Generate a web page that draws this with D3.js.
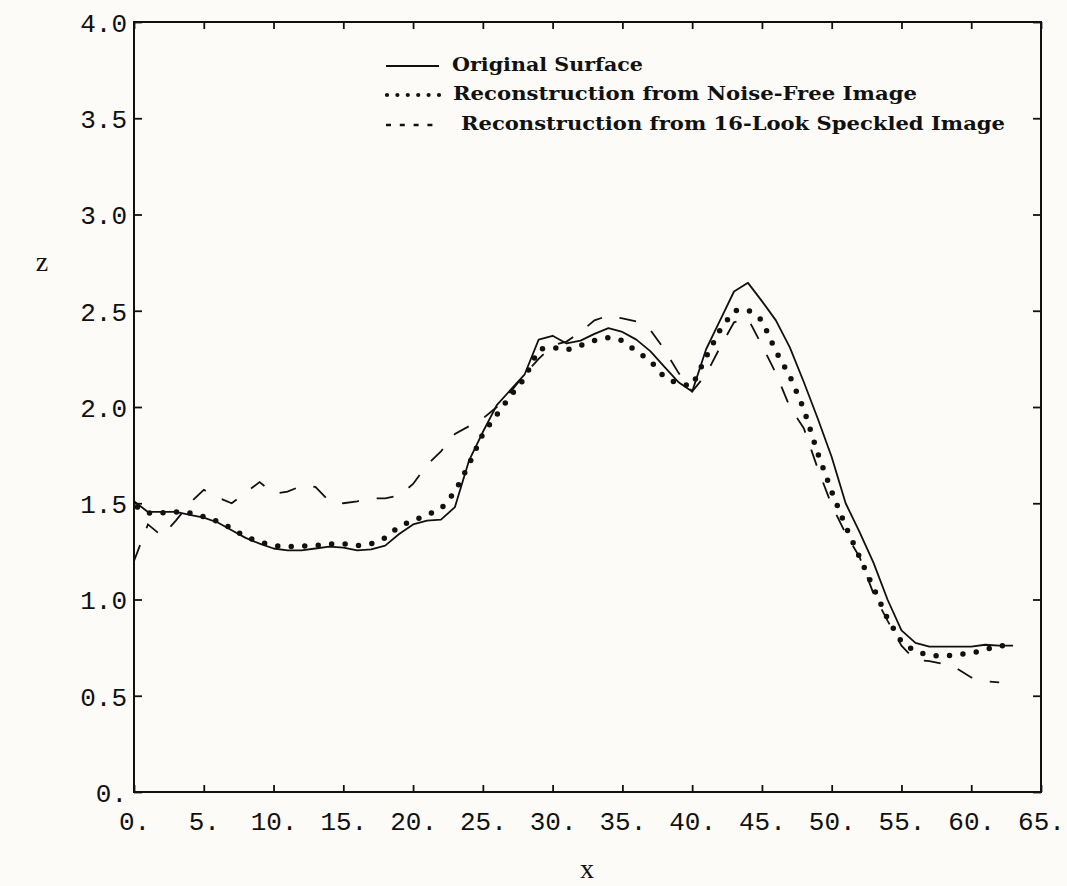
<!DOCTYPE html>
<html>
<head>
<meta charset="utf-8">
<script src="https://cdn.jsdelivr.net/npm/d3@7"></script>
<style>
  html, body { margin: 0; padding: 0; background: #fcfbf7; }
  svg { display: block; }
</style>
</head>
<body>
<svg id="chart" width="1067" height="886"></svg>
<script>
// ---------- data ----------
const xValues = d3.range(0, 64); // sample positions 0..63

const originalSurface = [
  1.51, 1.455, 1.455, 1.455, 1.44, 1.425, 1.40, 1.36, 1.32, 1.29,
  1.265, 1.255, 1.255, 1.265, 1.275, 1.27, 1.255, 1.26, 1.28, 1.34,
  1.39, 1.41, 1.415, 1.48, 1.72, 1.87, 2.01, 2.09, 2.17, 2.35,
  2.37, 2.33, 2.345, 2.38, 2.41, 2.39, 2.35, 2.29, 2.21, 2.13,
  2.08, 2.30, 2.45, 2.60, 2.645, 2.55, 2.45, 2.31, 2.13, 1.94,
  1.74, 1.50, 1.35, 1.19, 1.00, 0.84, 0.775, 0.755, 0.755, 0.755,
  0.755, 0.765, 0.76, 0.76
];

const noiseFreeRecon = [
  1.49, 1.45, 1.45, 1.455, 1.45, 1.43, 1.405, 1.37, 1.325, 1.30,
  1.28, 1.275, 1.278, 1.28, 1.288, 1.29, 1.28, 1.29, 1.32, 1.38,
  1.41, 1.44, 1.47, 1.56, 1.70, 1.86, 1.96, 2.06, 2.15, 2.30,
  2.31, 2.296, 2.32, 2.345, 2.36, 2.345, 2.29, 2.24, 2.155, 2.12,
  2.11, 2.26, 2.40, 2.50, 2.505, 2.45, 2.29, 2.16, 1.99, 1.76,
  1.56, 1.38, 1.22, 1.06, 0.90, 0.78, 0.73, 0.71, 0.705, 0.715,
  0.72, 0.74, 0.76, 0.76
];

const speckledRecon = [
  1.20, 1.39, 1.33, 1.41, 1.50, 1.57, 1.53, 1.50, 1.555, 1.61,
  1.55, 1.56, 1.59, 1.585, 1.51, 1.50, 1.51, 1.525, 1.525, 1.54,
  1.60, 1.70, 1.77, 1.86, 1.90, 1.94, 2.00, 2.08, 2.17, 2.25,
  2.32, 2.34, 2.39, 2.45, 2.475, 2.46, 2.445, 2.40, 2.30, 2.18,
  2.08, 2.17, 2.31, 2.44, 2.46, 2.32, 2.175, 2.00, 1.89, 1.68,
  1.49, 1.343, 1.22, 1.03, 0.89, 0.76, 0.685, 0.68, 0.665, 0.64,
  0.595, 0.575, 0.57
];

const xTickValues = [0, 5, 10, 15, 20, 25, 30, 35, 40, 45, 50, 55, 60, 65];
const xTickLabels = ["0.", "5.", "10.", "15.", "20.", "25.", "30.", "35.", "40.", "45.", "50.", "55.", "60.", "65."];
const yTickValues = [0, 0.5, 1.0, 1.5, 2.0, 2.5, 3.0, 3.5, 4.0];
const yTickLabels = ["0.", "0.5", "1.0", "1.5", "2.0", "2.5", "3.0", "3.5", "4.0"];

const legendLabels = [
  "Original Surface",
  "Reconstruction from Noise-Free Image",
  "Reconstruction from 16-Look Speckled Image"
];
const xTitle = "x";
const yTitle = "z";

// ---------- layout ----------
const svg = d3.select("#chart");
const pLeft = 134, pRight = 1041, pTop = 22, pBottom = 792;

const x = d3.scaleLinear().domain([0, 65]).range([pLeft, pRight]);
const y = d3.scaleLinear().domain([0, 4]).range([pBottom, pTop]);

const ink = "#111";
const tickFont = "'Liberation Mono', 'DejaVu Sans Mono', monospace";

// frame
svg.append("rect")
  .attr("x", pLeft).attr("y", pTop)
  .attr("width", pRight - pLeft).attr("height", pBottom - pTop)
  .attr("fill", "none").attr("stroke", ink).attr("stroke-width", 2);

// axes (ticks inward)
const xFmt = v => xTickLabels[xTickValues.indexOf(v)];
const yFmt = v => yTickLabels[yTickValues.indexOf(v)];

const gBottom = svg.append("g").attr("transform", `translate(0,${pBottom})`)
  .call(d3.axisBottom(x).tickValues(xTickValues).tickFormat(xFmt).tickSize(-7).tickPadding(20));
const gTop = svg.append("g").attr("transform", `translate(0,${pTop})`)
  .call(d3.axisTop(x).tickValues(xTickValues).tickFormat("").tickSize(-7));
const gLeft = svg.append("g").attr("transform", `translate(${pLeft},0)`)
  .call(d3.axisLeft(y).tickValues(yTickValues).tickFormat(yFmt).tickSize(-8).tickPadding(7));
const gRight = svg.append("g").attr("transform", `translate(${pRight},0)`)
  .call(d3.axisRight(y).tickValues(yTickValues).tickFormat("").tickSize(-8));

[gBottom, gTop, gLeft, gRight].forEach(g => {
  g.select(".domain").remove();
  g.selectAll(".tick line").attr("stroke", ink).attr("stroke-width", 1.8);
  g.selectAll(".tick text")
    .attr("fill", ink)
    .style("font-family", tickFont)
    .style("font-size", "26px");
});
gBottom.selectAll(".tick text").attr("dy", null).attr("y", 38);
gLeft.selectAll(".tick text").attr("x", -7).attr("dy", "0.36em");

// axis titles
svg.append("text").text(yTitle)
  .attr("x", 42).attr("y", 271)
  .attr("text-anchor", "middle")
  .style("font-family", "'Liberation Serif', 'DejaVu Serif', serif")
  .style("font-size", "28px").attr("fill", ink);
svg.append("text").text(xTitle)
  .attr("x", 587).attr("y", 878)
  .attr("text-anchor", "middle")
  .style("font-family", "'Liberation Serif', 'DejaVu Serif', serif")
  .style("font-size", "28px").attr("fill", ink);

// ---------- series ----------
const line = d3.line().x(d => x(d[0])).y(d => y(d[1]));
const toPts = arr => arr.map((v, i) => [xValues[i], v]);

const plot = svg.append("g");

plot.append("path")
  .datum(toPts(originalSurface))
  .attr("d", line)
  .attr("fill", "none").attr("stroke", ink).attr("stroke-width", 1.8)
  .attr("stroke-linejoin", "round");

plot.append("path")
  .datum(toPts(speckledRecon))
  .attr("d", line)
  .attr("fill", "none").attr("stroke", ink).attr("stroke-width", 1.8)
  .attr("stroke-dasharray", "17 18")
  .attr("stroke-dashoffset", 0);

plot.append("path")
  .datum(toPts(noiseFreeRecon))
  .attr("d", line)
  .attr("fill", "none").attr("stroke", ink).attr("stroke-width", 5.5)
  .attr("stroke-linecap", "round")
  .attr("stroke-dasharray", "0 13.5")
  .attr("stroke-dashoffset", 9.5);

// ---------- legend ----------
const legend = svg.append("g");
const rowsY = [66, 95, 125];
const textX = [452, 453, 461];
const textEnd = [643, 917, 1005];
const sampleX0 = 386;

legend.append("line")
  .attr("x1", sampleX0).attr("x2", 439).attr("y1", rowsY[0]).attr("y2", rowsY[0])
  .attr("stroke", ink).attr("stroke-width", 1.8);
legend.append("line")
  .attr("x1", sampleX0 + 1).attr("x2", 440).attr("y1", rowsY[1]).attr("y2", rowsY[1])
  .attr("stroke", ink).attr("stroke-width", 4.2).attr("stroke-linecap", "round")
  .attr("stroke-dasharray", "0 10.4");
legend.append("line")
  .attr("x1", sampleX0).attr("x2", 434).attr("y1", rowsY[2]).attr("y2", rowsY[2])
  .attr("stroke", ink).attr("stroke-width", 2.4)
  .attr("stroke-dasharray", "5 8.8");

legendLabels.forEach((t, i) => {
  legend.append("text").text(t)
    .attr("x", textX[i]).attr("y", rowsY[i] + 5)
    .attr("textLength", textEnd[i] - textX[i])
    .attr("lengthAdjust", "spacingAndGlyphs")
    .style("font-family", "'DejaVu Serif', 'Liberation Serif', serif")
    .style("font-weight", "bold")
    .style("font-size", "19px")
    .attr("fill", ink);
});
</script>
</body>
</html>
